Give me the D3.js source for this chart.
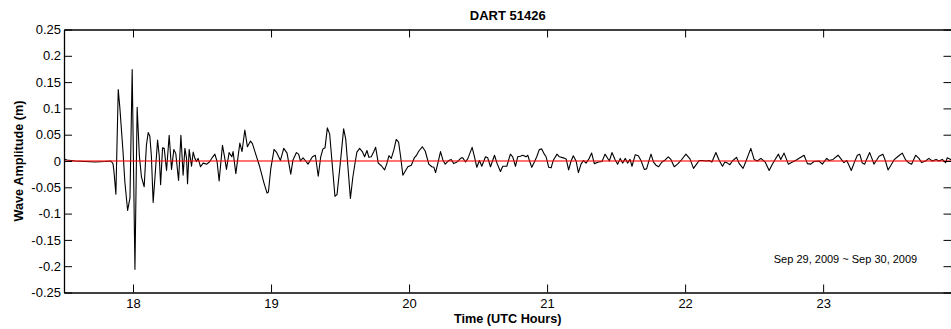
<!DOCTYPE html>
<html>
<head>
<meta charset="utf-8">
<script src="https://cdn.jsdelivr.net/npm/d3@7/dist/d3.min.js"></script>
<style>
  html, body { margin: 0; padding: 0; background: #fff; }
  svg { display: block; }
  text { font-family: "Liberation Sans", Arial, Helvetica, sans-serif; fill: #000; }
</style>
</head>
<body>
<svg id="chart" width="951" height="329"></svg>
<script>
// DART 51426 bottom-pressure record, de-tided wave amplitude (m) against UTC hours
const timeHours = [
  17.500, 17.522, 17.580, 17.652, 17.724, 17.797, 17.840, 17.855, 17.862, 17.876,
  17.893, 17.905, 17.927, 17.941, 17.961, 17.978, 17.994, 18.014, 18.030, 18.046,
  18.061, 18.081, 18.097, 18.110, 18.122, 18.133, 18.146, 18.162, 18.178, 18.190,
  18.200, 18.214, 18.226, 18.243, 18.262, 18.279, 18.296, 18.310, 18.330, 18.347,
  18.363, 18.376, 18.388, 18.395, 18.407, 18.424, 18.436, 18.448, 18.460, 18.472,
  18.489, 18.508, 18.535, 18.556, 18.578, 18.593, 18.609, 18.624, 18.648, 18.665,
  18.677, 18.696, 18.716, 18.725, 18.745, 18.774, 18.790, 18.810, 18.829, 18.851,
  18.865, 18.889, 18.918, 18.947, 18.971, 18.981, 18.998, 19.022, 19.039, 19.068,
  19.092, 19.116, 19.143, 19.159, 19.184, 19.200, 19.213, 19.232, 19.251, 19.268,
  19.300, 19.321, 19.342, 19.360, 19.376, 19.391, 19.408, 19.425, 19.441, 19.463,
  19.478, 19.492, 19.509, 19.526, 19.541, 19.557, 19.575, 19.593, 19.611, 19.622,
  19.642, 19.661, 19.678, 19.695, 19.709, 19.726, 19.743, 19.758, 19.777, 19.799,
  19.823, 19.839, 19.854, 19.871, 19.890, 19.907, 19.924, 19.939, 19.955, 19.975,
  19.991, 20.016, 20.040, 20.052, 20.071, 20.096, 20.117, 20.143, 20.165, 20.180,
  20.192, 20.208, 20.228, 20.245, 20.262, 20.288, 20.305, 20.324, 20.346, 20.378,
  20.389, 20.409, 20.425, 20.457, 20.474, 20.491, 20.510, 20.527, 20.554, 20.570,
  20.590, 20.619, 20.638, 20.662, 20.679, 20.708, 20.734, 20.751, 20.771, 20.787,
  20.807, 20.823, 20.848, 20.860, 20.872, 20.889, 20.908, 20.925, 20.944, 20.961,
  20.980, 20.993, 21.012, 21.029, 21.046, 21.072, 21.089, 21.118, 21.138, 21.156,
  21.174, 21.190, 21.210, 21.227, 21.246, 21.263, 21.282, 21.301, 21.323, 21.342,
  21.373, 21.398, 21.420, 21.434, 21.451, 21.470, 21.492, 21.511, 21.530, 21.547,
  21.567, 21.583, 21.601, 21.615, 21.639, 21.661, 21.680, 21.704, 21.721, 21.735,
  21.753, 21.771, 21.789, 21.808, 21.832, 21.856, 21.878, 21.897, 21.921, 21.945,
  21.970, 22.006, 22.035, 22.061, 22.083, 22.102, 22.126, 22.151, 22.174, 22.194,
  22.223, 22.247, 22.271, 22.288, 22.307, 22.324, 22.343, 22.372, 22.392, 22.420,
  22.440, 22.476, 22.500, 22.524, 22.549, 22.580, 22.609, 22.628, 22.650, 22.676,
  22.693, 22.717, 22.748, 22.777, 22.806, 22.838, 22.862, 22.886, 22.910, 22.934,
  22.970, 22.994, 23.026, 23.043, 23.072, 23.108, 23.135, 23.151, 23.171, 23.187,
  23.204, 23.224, 23.248, 23.265, 23.284, 23.301, 23.313, 23.337, 23.356, 23.368,
  23.388, 23.405, 23.433, 23.453, 23.470, 23.489, 23.513, 23.544, 23.573, 23.598,
  23.622, 23.641, 23.670, 23.694, 23.713, 23.742, 23.766, 23.790, 23.819, 23.839,
  23.863, 23.887, 23.899, 23.930
];

const amplitude = [
  0.004, 0.002, 0.000, -0.001, -0.002, -0.001, 0.000, -0.005, -0.020, -0.063,
  0.136, 0.100, 0.020, -0.040, -0.094, -0.070, 0.174, -0.206, 0.102, 0.010,
  -0.030, -0.049, 0.030, 0.054, 0.047, 0.010, -0.079, -0.020, 0.040, 0.010,
  -0.045, 0.025, 0.024, -0.018, 0.049, -0.016, 0.022, 0.014, -0.037, 0.049,
  -0.027, 0.024, 0.005, -0.043, 0.022, -0.010, 0.017, 0.005, -0.001, 0.005,
  -0.011, -0.004, -0.006, -0.001, 0.008, 0.013, -0.001, -0.038, 0.030, 0.005,
  -0.016, 0.016, 0.008, 0.018, -0.024, 0.034, 0.018, 0.059, 0.027, 0.038,
  0.033, 0.013, -0.011, -0.040, -0.061, -0.059, -0.015, 0.022, 0.017, 0.001,
  0.024, 0.015, -0.025, 0.002, 0.016, 0.013, 0.000, 0.006, 0.000, -0.006,
  0.008, 0.011, -0.029, 0.008, 0.023, 0.025, 0.063, 0.051, 0.001, -0.067,
  -0.064, -0.029, 0.015, 0.061, 0.042, -0.011, -0.071, -0.030, 0.000, 0.017,
  0.024, 0.018, 0.008, 0.020, 0.007, 0.008, 0.017, 0.026, -0.004, -0.009,
  -0.017, -0.005, 0.010, 0.005, 0.021, 0.041, 0.036, 0.008, -0.027, -0.018,
  -0.011, -0.008, 0.007, 0.010, 0.019, 0.027, 0.019, -0.006, -0.011, -0.012,
  -0.022, -0.005, 0.018, 0.002, -0.006, 0.001, 0.003, -0.005, -0.002, 0.006,
  0.006, -0.002, 0.004, 0.026, 0.008, -0.012, 0.001, -0.010, 0.008, 0.006,
  -0.011, 0.011, -0.005, -0.020, -0.010, -0.010, 0.013, 0.008, -0.010, 0.008,
  0.009, 0.011, 0.008, 0.011, 0.001, -0.012, -0.002, 0.008, 0.022, 0.023,
  0.013, 0.008, -0.012, -0.013, 0.002, 0.013, 0.008, 0.006, 0.004, -0.017,
  0.000, 0.010, 0.000, -0.022, -0.006, 0.001, -0.004, 0.003, 0.015, -0.005,
  -0.002, -0.001, 0.013, 0.007, 0.000, 0.016, 0.003, -0.006, 0.005, -0.004,
  0.005, -0.004, 0.003, -0.010, 0.012, 0.010, 0.001, -0.016, -0.015, -0.002,
  0.013, -0.002, -0.008, -0.011, -0.002, 0.002, 0.008, 0.003, -0.011, -0.006,
  0.001, 0.013, 0.004, -0.014, -0.006, 0.001, 0.001, 0.000, 0.001, -0.002,
  0.016, 0.001, -0.010, -0.002, -0.004, -0.007, 0.000, 0.007, -0.005, -0.014,
  -0.001, 0.024, 0.003, 0.000, 0.005, -0.002, -0.018, -0.008, 0.002, 0.013,
  0.003, 0.015, -0.006, -0.002, 0.002, 0.007, 0.011, -0.005, -0.006, -0.001,
  0.000, -0.006, 0.005, 0.001, 0.003, 0.011, 0.002, -0.003, 0.001, -0.008,
  -0.018, -0.004, 0.011, 0.013, -0.004, -0.006, 0.002, 0.016, 0.003, -0.006,
  0.002, 0.009, 0.013, -0.001, -0.017, -0.009, 0.002, 0.009, 0.015, 0.002,
  -0.004, -0.006, 0.011, 0.005, -0.003, 0.000, 0.005, 0.000, 0.003, 0.000,
  0.003, -0.003, 0.006, 0.002
];

// Reference level drawn in red
const baselineLevel = 0;

const xDomain = [17.5, 23.93];
const yDomain = [-0.25, 0.25];
const xTickValues = [18, 19, 20, 21, 22, 23];
const xTickLabels = ["18", "19", "20", "21", "22", "23"];
const yTickValues = [-0.25, -0.2, -0.15, -0.1, -0.05, 0, 0.05, 0.1, 0.15, 0.2, 0.25];
const yTickLabels = ["-0.25", "-0.2", "-0.15", "-0.1", "-0.05", "0", "0.05", "0.1", "0.15", "0.2", "0.25"];

const titleText = "DART 51426";
const xLabelText = "Time (UTC Hours)";
const yLabelText = "Wave Amplitude (m)";
const dateRangeText = "Sep 29, 2009 ~ Sep 30, 2009";

// ---- layout ----
const svg = d3.select("#chart");
const plotLeft = 64, plotRight = 951.5, plotTop = 29.5, plotBottom = 292.5;

const x = d3.scaleLinear().domain(xDomain).range([plotLeft, plotRight]);
const y = d3.scaleLinear().domain(yDomain).range([plotBottom, plotTop]);

const points = timeHours.map((t, i) => ({ t, v: amplitude[i] }));

svg.append("defs").append("clipPath").attr("id", "plot-clip")
  .append("rect")
  .attr("x", plotLeft).attr("y", plotTop)
  .attr("width", plotRight - plotLeft).attr("height", plotBottom - plotTop);

const plot = svg.append("g").attr("clip-path", "url(#plot-clip)");

// wave trace
plot.append("path")
  .datum(points)
  .attr("fill", "none")
  .attr("stroke", "#000")
  .attr("stroke-width", 1.1)
  .attr("stroke-linejoin", "round")
  .attr("d", d3.line().x(d => x(d.t)).y(d => y(d.v)));

// zero reference line (translucent red over the trace)
plot.append("line")
  .attr("x1", x(xDomain[0])).attr("x2", x(xDomain[1]))
  .attr("y1", y(baselineLevel)).attr("y2", y(baselineLevel))
  .attr("stroke", "rgb(255,0,0)")
  .attr("stroke-opacity", 0.55)
  .attr("stroke-width", 2);

// ---- axes (ticks point inward) ----
const tickLen = 8;
const fontFam = '"Liberation Sans", Arial, Helvetica, sans-serif';
function styleAxis(g) {
  g.selectAll(".domain").attr("stroke", "#000").attr("stroke-width", 1.3);
  g.selectAll(".tick line").attr("stroke", "#000").attr("stroke-width", 1);
  g.selectAll(".tick text").attr("font-size", 13).attr("fill", "#000")
    .style("font-family", fontFam);
}

svg.append("g")
  .attr("transform", `translate(0,${plotBottom})`)
  .call(d3.axisBottom(x).tickValues(xTickValues)
    .tickFormat((d, i) => xTickLabels[i])
    .tickSizeInner(-tickLen).tickSizeOuter(0).tickPadding(6))
  .call(styleAxis);

svg.append("g")
  .attr("transform", `translate(0,${plotTop})`)
  .call(d3.axisTop(x).tickValues(xTickValues).tickFormat("")
    .tickSizeInner(-tickLen).tickSizeOuter(0))
  .call(styleAxis);

svg.append("g")
  .attr("transform", `translate(${plotLeft},0)`)
  .call(d3.axisLeft(y).tickValues(yTickValues)
    .tickFormat((d, i) => yTickLabels[i])
    .tickSizeInner(-tickLen).tickSizeOuter(0).tickPadding(3))
  .call(styleAxis);

svg.append("g")
  .attr("transform", `translate(${plotRight},0)`)
  .call(d3.axisRight(y).tickValues(yTickValues).tickFormat("")
    .tickSizeInner(-tickLen).tickSizeOuter(0))
  .call(styleAxis);

// ---- text ----
svg.append("text")
  .attr("x", (plotLeft + plotRight) / 2).attr("y", 19.5)
  .attr("text-anchor", "middle")
  .attr("font-size", 13).attr("font-weight", "bold")
  .style("font-family", fontFam)
  .text(titleText);

svg.append("text")
  .attr("x", (plotLeft + plotRight) / 2).attr("y", 323)
  .attr("text-anchor", "middle")
  .attr("font-size", 12.7).attr("font-weight", "bold")
  .style("font-family", fontFam)
  .text(xLabelText);

svg.append("text")
  .attr("transform", `translate(23,${(plotTop + plotBottom) / 2}) rotate(-90)`)
  .attr("text-anchor", "middle")
  .attr("font-size", 12.7).attr("font-weight", "bold")
  .style("font-family", fontFam)
  .text(yLabelText);

svg.append("text")
  .attr("x", 845.5).attr("y", 263)
  .attr("text-anchor", "middle")
  .attr("font-size", 11)
  .style("font-family", fontFam)
  .text(dateRangeText);
</script>
</body>
</html>
